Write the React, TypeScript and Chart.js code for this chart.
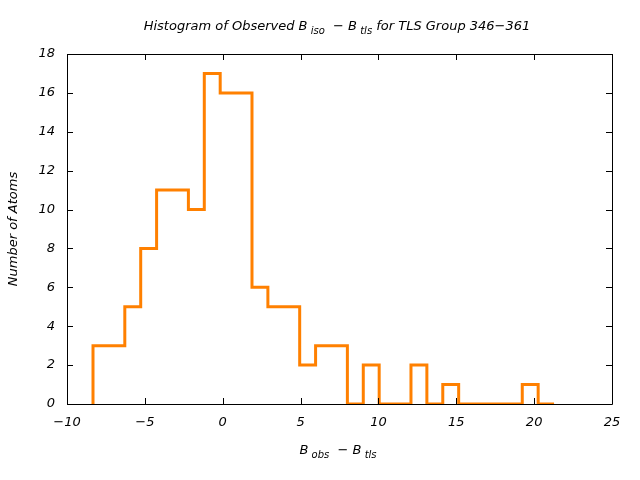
import React, { useEffect, useRef } from "react";
import { Chart, registerables } from "chart.js";

Chart.register(...registerables);

// Histogram bins: first edge, bin width, counts per bin
const binStart = -8.33;
const binWidth = 1.021;
const counts = [3, 3, 5, 8, 11, 11, 10, 17, 16, 16, 6, 5, 5, 2, 3, 3, 0, 2, 0, 0, 2, 0, 1, 0, 0, 0, 0, 1, 0];

const xTicks = [-10, -5, 0, 5, 10, 15, 20, 25];
const yTicks = [0, 2, 4, 6, 8, 10, 12, 14, 16, 18];

const titleParts = [
  { t: "Histogram of Observed B", sub: false },
  { t: " iso", sub: true },
  { t: "  \u2212 B", sub: false },
  { t: " tls", sub: true },
  { t: " for TLS Group 346\u2212361", sub: false },
];
const xLabelParts = [
  { t: "B", sub: false },
  { t: " obs", sub: true },
  { t: "  \u2212 B", sub: false },
  { t: " tls", sub: true },
];
const yLabel = "Number of Atoms";

const FONT = "'DejaVu Sans', sans-serif";
const FS = 13;
const ORANGE = "#ff8000";

function drawRich(ctx: CanvasRenderingContext2D, parts: { t: string; sub: boolean }[], cx: number, cy: number) {
  const big = `italic ${FS}px ${FONT}`;
  const small = `italic 10px ${FONT}`;
  let total = 0;
  const widths = parts.map((p) => {
    ctx.font = p.sub ? small : big;
    const w = ctx.measureText(p.t).width;
    total += w;
    return w;
  });
  let x = cx - total / 2;
  ctx.textAlign = "left";
  ctx.textBaseline = "middle";
  ctx.fillStyle = "#000";
  parts.forEach((p, i) => {
    ctx.font = p.sub ? small : big;
    ctx.fillText(p.t, x, p.sub ? cy + 4 : cy);
    x += widths[i];
  });
}

const framePlugin = {
  id: "frame",
  afterDraw(chart: any) {
    const ctx = chart.ctx as CanvasRenderingContext2D;
    const { left, right, top, bottom } = chart.chartArea;
    const xs = chart.scales.x;
    const ys = chart.scales.y;
    ctx.save();
    ctx.strokeStyle = "#000";
    ctx.lineWidth = 1;
    ctx.beginPath();
    ctx.rect(Math.round(left) + 0.5, Math.round(top) + 0.5, Math.round(right - left), Math.round(bottom - top));
    const tl = 6;
    xTicks.forEach((v) => {
      const px = Math.round(xs.getPixelForValue(v)) + 0.5;
      ctx.moveTo(px, bottom);
      ctx.lineTo(px, bottom - tl);
      ctx.moveTo(px, top);
      ctx.lineTo(px, top + tl);
    });
    yTicks.forEach((v) => {
      const py = Math.round(ys.getPixelForValue(v)) + 0.5;
      ctx.moveTo(left, py);
      ctx.lineTo(left + tl, py);
      ctx.moveTo(right, py);
      ctx.lineTo(right - tl, py);
    });
    ctx.stroke();
    drawRich(ctx, titleParts, 337, 27);
    drawRich(ctx, xLabelParts, 338, 451);
    ctx.translate(14, (top + bottom) / 2);
    ctx.rotate(-Math.PI / 2);
    ctx.font = `italic ${FS}px ${FONT}`;
    ctx.textAlign = "center";
    ctx.textBaseline = "middle";
    ctx.fillStyle = "#000";
    ctx.fillText(yLabel, 0, 0);
    ctx.restore();
  },
};

const fmt = (v: any) => String(v).replace("-", "\u2212");

export default function App() {
  const ref = useRef<HTMLCanvasElement | null>(null);
  useEffect(() => {
    if (!ref.current) return;
    const pts: { x: number; y: number }[] = [{ x: binStart, y: 0 }];
    counts.forEach((c, i) => pts.push({ x: binStart + (i + 1) * binWidth, y: c }));
    pts.push({ x: binStart + counts.length * binWidth, y: 0 });
    const chart = new Chart(ref.current, {
      type: "line",
      data: {
        datasets: [
          {
            data: pts,
            stepped: "after",
            borderColor: ORANGE,
            borderWidth: 3,
            pointRadius: 0,
            fill: false,
            borderJoinStyle: "miter",
          } as any,
        ],
      },
      options: {
        animation: false,
        responsive: false,
        events: [],
        layout: { padding: { top: 54, right: 28, left: 0, bottom: 0 } },
        plugins: { legend: { display: false }, tooltip: { enabled: false } },
        scales: {
          x: {
            type: "linear",
            min: -10,
            max: 25,
            border: { display: false },
            grid: { display: false, drawTicks: false },
            afterBuildTicks: (s: any) => {
              s.ticks = xTicks.map((v) => ({ value: v }));
            },
            afterFit: (s: any) => {
              s.height = 76;
            },
            ticks: {
              color: "#000",
              padding: 11,
              font: { family: FONT, size: FS, style: "italic" },
              maxRotation: 0,
              autoSkip: false,
              callback: fmt,
            },
          },
          y: {
            type: "linear",
            min: 0,
            max: 18,
            border: { display: false },
            grid: { display: false, drawTicks: false },
            afterBuildTicks: (s: any) => {
              s.ticks = yTicks.map((v) => ({ value: v }));
            },
            afterFit: (s: any) => {
              s.width = 67;
            },
            ticks: {
              color: "#000",
              padding: 12,
              font: { family: FONT, size: FS, style: "italic" },
              autoSkip: false,
              callback: fmt,
            },
          },
        },
      },
      plugins: [framePlugin],
    });
    return () => chart.destroy();
  }, []);
  return (
    <div style={{ position: "fixed", left: 0, top: 0, width: 640, height: 480, background: "#fff" }}>
      <canvas ref={ref} width={640} height={480} style={{ width: 640, height: 480 }} />
    </div>
  );
}
